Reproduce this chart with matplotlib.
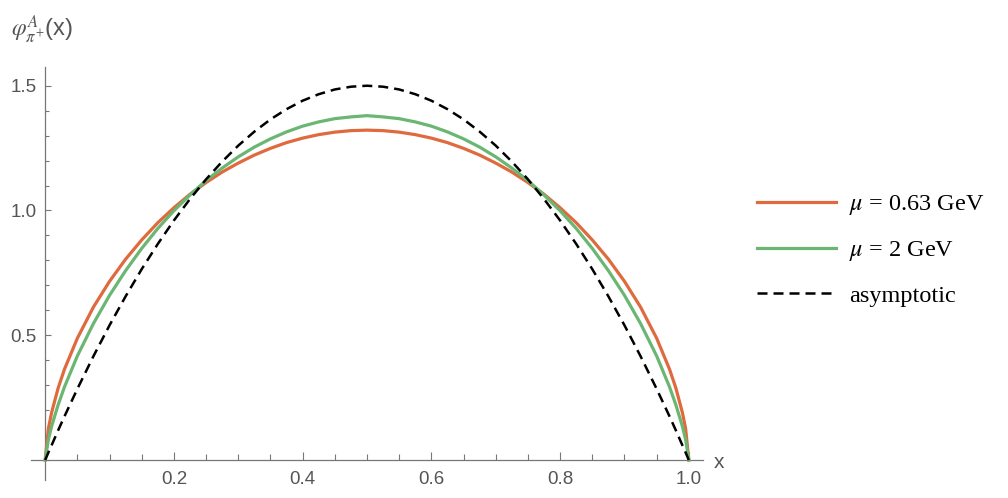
import matplotlib
matplotlib.use("Agg")
import matplotlib.pyplot as plt
from matplotlib.ticker import MultipleLocator, FixedLocator

# values (symmetric about x = 0.5)
x = [0, 0.005, 0.01, 0.02, 0.03, 0.05, 0.075, 0.1, 0.125, 0.15, 0.175, 0.2,
     0.225, 0.25, 0.275, 0.3, 0.325, 0.35, 0.375, 0.4, 0.425, 0.45, 0.475, 0.5,
     0.525, 0.55, 0.575, 0.6, 0.625, 0.65, 0.675, 0.7, 0.725, 0.75, 0.775, 0.8,
     0.825, 0.85, 0.875, 0.9, 0.925, 0.95, 0.97, 0.98, 0.99, 0.995, 1.0]

phi_063 = [0, 0.126, 0.190, 0.287, 0.364, 0.488, 0.613, 0.716, 0.805, 0.882,
           0.951, 1.011, 1.065, 1.112, 1.154, 1.190, 1.222, 1.249, 1.272, 1.290,
           1.304, 1.314, 1.320, 1.322,
           1.320, 1.314, 1.304, 1.290, 1.272, 1.249, 1.222, 1.190, 1.154, 1.112,
           1.065, 1.011, 0.951, 0.882, 0.805, 0.716, 0.613, 0.488, 0.364, 0.287,
           0.190, 0.126, 0]

phi_2 = [0, 0.082, 0.135, 0.220, 0.293, 0.417, 0.547, 0.660, 0.759, 0.848,
         0.928, 0.999, 1.062, 1.120, 1.170, 1.215, 1.254, 1.287, 1.315, 1.338,
         1.355, 1.368, 1.375, 1.380,
         1.375, 1.368, 1.355, 1.338, 1.315, 1.287, 1.254, 1.215, 1.170, 1.120,
         1.062, 0.999, 0.928, 0.848, 0.759, 0.660, 0.547, 0.417, 0.293, 0.220,
         0.135, 0.082, 0]

phi_asy = [0, 0.030, 0.059, 0.118, 0.175, 0.285, 0.416, 0.540, 0.656, 0.765,
           0.866, 0.960, 1.046, 1.125, 1.196, 1.260, 1.316, 1.365, 1.406, 1.440,
           1.466, 1.485, 1.496, 1.500,
           1.496, 1.485, 1.466, 1.440, 1.406, 1.365, 1.316, 1.260, 1.196, 1.125,
           1.046, 0.960, 0.866, 0.765, 0.656, 0.540, 0.416, 0.285, 0.175, 0.118,
           0.059, 0.030, 0]

labels = [r"$\mu$ = 0.63 GeV", r"$\mu$ = 2 GeV", "asymptotic"]

plt.rcParams["mathtext.fontset"] = "stix"
gray = "#555555"

fig = plt.figure(figsize=(10.08, 4.98), dpi=100)
ax = fig.add_axes([31 / 1008, 18 / 498, 672 / 1008, 413 / 498])

ax.plot(x, phi_063, color="#DE6A3E", lw=2.3, label=labels[0], zorder=3)
ax.plot(x, phi_2, color="#6BB672", lw=2.3, label=labels[1], zorder=3)
ax.plot(x, phi_asy, color="black", lw=1.8, dashes=(4, 2.4), label=labels[2], zorder=4)

ax.set_xlim(-0.022, 1.022)
ax.set_ylim(-0.08, 1.575)

for s in ["top", "right"]:
    ax.spines[s].set_visible(False)
ax.spines["left"].set_position(("data", 0))
ax.spines["bottom"].set_position(("data", 0))
for s in ["left", "bottom"]:
    ax.spines[s].set_color("#777777")
    ax.spines[s].set_linewidth(0.9)

ax.xaxis.set_major_locator(FixedLocator([0.2, 0.4, 0.6, 0.8, 1.0]))
ax.xaxis.set_minor_locator(MultipleLocator(0.05))
ax.yaxis.set_major_locator(FixedLocator([0.5, 1.0, 1.5]))
ax.yaxis.set_minor_locator(MultipleLocator(0.1))
ax.set_xticklabels(["0.2", "0.4", "0.6", "0.8", "1.0"])
ax.set_yticklabels(["0.5", "1.0", "1.5"])

ax.tick_params(axis="both", which="both", direction="in", colors="#777777",
               labelcolor=gray, labelsize=13.5, width=0.8)
ax.tick_params(axis="x", which="major", length=6, pad=8)
ax.tick_params(axis="x", which="minor", length=4)
ax.tick_params(axis="y", which="major", length=4.5, pad=6)
ax.tick_params(axis="y", which="minor", length=3)
for t in ax.get_xticklabels() + ax.get_yticklabels():
    t.set_family("Liberation Sans")

fig.text(11 / 1008, 1 - 29 / 498, r"$\varphi^{A}_{\pi^{+}}$(x)", fontsize=17,
         color=gray, family="Liberation Sans", va="center", ha="left")
fig.text(719 / 1008, 1 - 462 / 498, "x", fontsize=15, color=gray,
         family="Liberation Sans", va="center", ha="center")

leg = fig.legend(loc="center left", bbox_to_anchor=(757 / 1008, 1 - 250 / 498),
                 frameon=False, prop={"family": "Liberation Serif", "size": 17.5},
                 handlelength=3.25, handletextpad=0.55, labelspacing=0.9,
                 borderpad=0, borderaxespad=0)

fig.savefig("out.png", dpi=100)
